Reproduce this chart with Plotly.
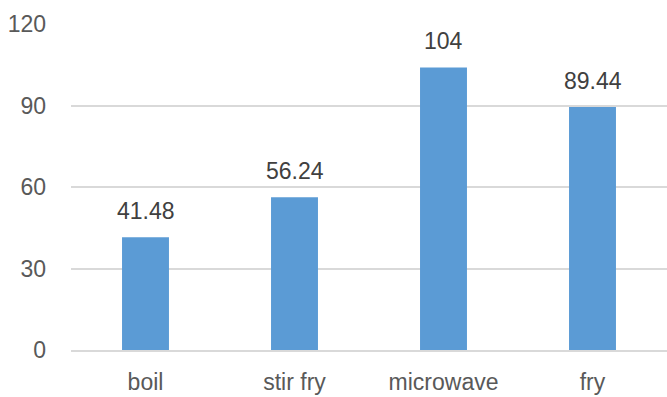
import plotly.graph_objects as go

methods = ["boil", "stir fry", "microwave", "fry"]
values = [41.48, 56.24, 104, 89.44]
value_labels = ["41.48", "56.24", "104", "89.44"]
y_ticks = [0, 30, 60, 90, 120]

text_color = "#595959"
bar_color = "#5B9BD5"
font_family = "Liberation Sans, Arial, sans-serif"
font_size = 23

fig = go.Figure(
    go.Bar(
        x=methods,
        y=values,
        marker=dict(color=bar_color, line=dict(width=0)),
        showlegend=False,
        hoverinfo="skip",
    )
)

# value labels above each bar
for m, v, lbl in zip(methods, values, value_labels):
    fig.add_annotation(
        x=m, y=v, text=lbl, showarrow=False,
        yanchor="bottom", yshift=11,
        font=dict(family=font_family, size=font_size, color="#404040"),
    )

fig.update_layout(
    width=667,
    height=397,
    margin=dict(l=71, r=0, t=24, b=47),
    paper_bgcolor="white",
    plot_bgcolor="white",
    bargap=0.685,
    font=dict(family=font_family, size=font_size, color=text_color),
)

fig.update_xaxes(
    showgrid=False,
    showline=True,
    linecolor="#D9D9D9",
    linewidth=1.5,
    ticks="",
    ticklabelstandoff=11,
    tickfont=dict(size=font_size, color=text_color),
)

fig.update_yaxes(
    range=[0, 120],
    tickvals=y_ticks,
    showgrid=True,
    gridcolor="#D9D9D9",
    gridwidth=1.5,
    zeroline=False,
    showline=False,
    ticks="",
    ticklabelstandoff=24,
    tickfont=dict(size=font_size, color=text_color),
)

fig.write_html("out.html")
